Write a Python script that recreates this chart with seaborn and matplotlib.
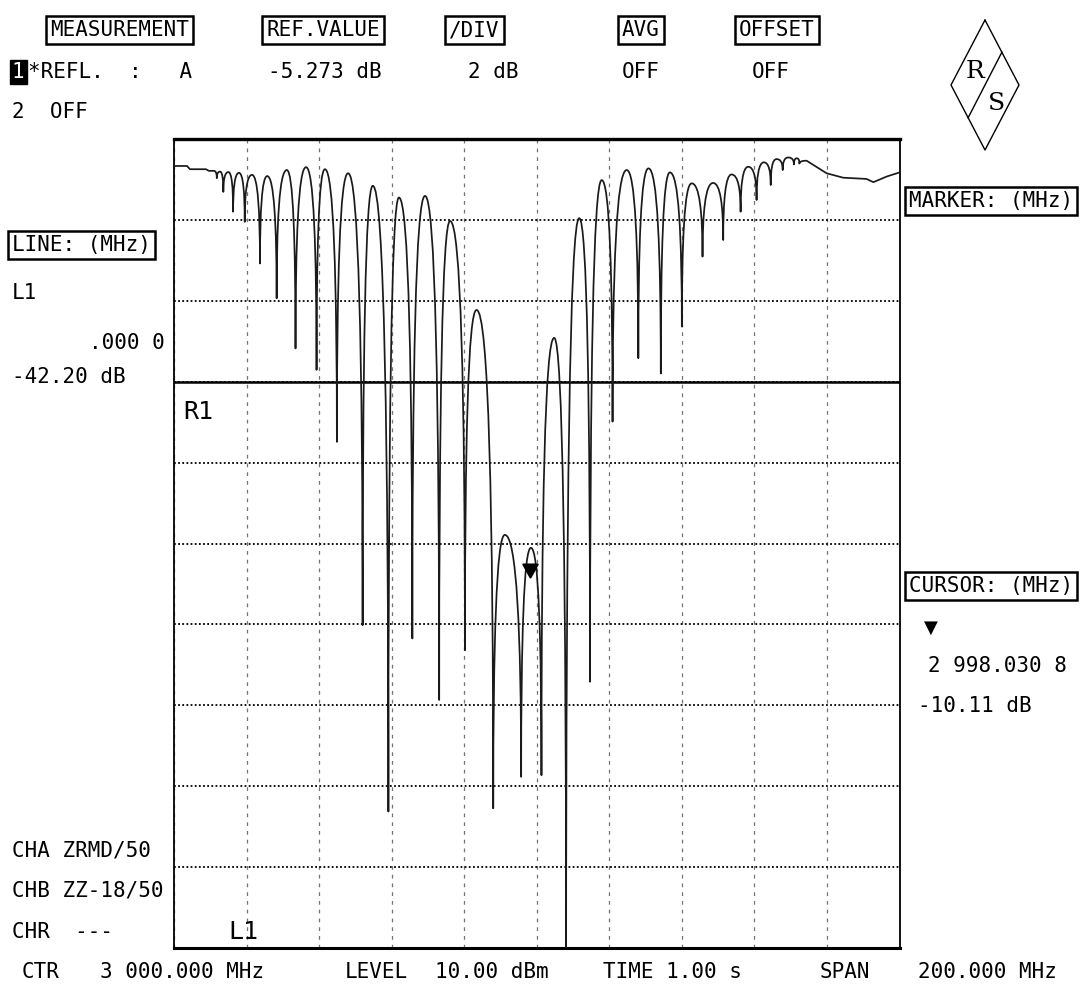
import numpy as np
import matplotlib
matplotlib.use("Agg")
import matplotlib.pyplot as plt
from matplotlib.path import Path
from matplotlib.patches import PathPatch
from matplotlib.lines import Line2D
import seaborn as sns

sns.set_style("white")
plt.rcParams['font.family'] = ['DejaVu Sans Mono', 'DejaVu Sans']
plt.rcParams['text.color'] = 'black'

# instrument settings
ref_value = -5.273      # dB at R1
db_per_div = 2
ctr = 3000.0            # MHz
span = 200.0            # MHz
cursor_f = 2998.0308
cursor_db = -10.11

# trace: flat start, dips, lobe tops between dips, flat end
lead_f = [2900.0, 2903.6, 2904.4, 2908.8, 2909.6, 2911.0]
lead_db = [0.06, 0.06, -0.02, -0.02, -0.06, -0.06]

dip_f = [2911.8, 2913.6, 2916.3, 2919.5, 2923.7, 2928.3, 2933.5, 2939.3, 2944.9, 2952.0,
         2959.1, 2965.7, 2973.1, 2980.2, 2988.0, 2995.7, 3001.3, 3008.1, 3014.7, 3020.9,
         3028.0, 3034.2, 3040.0, 3045.7, 3051.4, 3056.2, 3060.6, 3064.5, 3067.8, 3070.9,
         3072.4]
dip_db = [-0.24, -0.58, -1.07, -1.32, -2.35, -3.21, -4.45, -4.98, -6.76, -11.29,
          -15.90, -11.62, -13.14, -11.91, -15.82, -15.04, -15.00, -19.6, -12.69, -6.26,
          -4.69, -5.07, -3.91, -2.18, -1.77, -1.07, -0.78, -0.41, -0.04, 0.10,
          0.12]

peak_f = [2912.7, 2915.0, 2917.9, 2921.5, 2925.7, 2931.1, 2936.4, 2941.6, 2948.0, 2954.8,
          2962.0, 2969.2, 2976.1, 2983.4, 2991.2, 2998.4, 3004.8, 3011.7, 3017.9, 3024.8,
          3030.8, 3036.7, 3042.7, 3048.6, 3053.7, 3058.3, 3062.6, 3066.1, 3069.3, 3071.7]
peak_db = [-0.08, -0.09, -0.11, -0.16, -0.19, -0.04, 0.03, -0.02, -0.12, -0.43,
           -0.72, -0.68, -1.30, -3.50, -9.06, -9.38, -4.19, -1.23, -0.29, -0.04,
           0.00, -0.10, -0.37, -0.36, -0.15, 0.04, 0.15, 0.23, 0.27, 0.25]

tail_f = [3074.4, 3079.9, 3084.5, 3090.9, 3092.8, 3096.5, 3100.0]
tail_db = [0.19, -0.12, -0.23, -0.26, -0.34, -0.20, -0.10]

W, H = 1083, 986
fig = plt.figure(figsize=(W / 100, H / 100), dpi=100)
ax = fig.add_axes([174 / W, 1 - 948 / H, 725.5 / W, 809 / H])

f_lo, f_hi = ctr - span / 2, ctr + span / 2
top = ref_value + 3 * db_per_div
bottom = ref_value - 7 * db_per_div
ax.set_xlim(f_lo, f_hi)
ax.set_ylim(bottom, top)
ax.set_xticks(np.linspace(f_lo, f_hi, 11))
ax.set_yticks(np.linspace(bottom, top, 11))
ax.tick_params(length=0, labelbottom=False, labelleft=False)
ax.xaxis.grid(True, color='0.45', ls=(0, (3, 4)), lw=0.9)
ax.yaxis.grid(True, color='black', ls=(0, (1, 1.3)), lw=1.3)
for side, lw in [('top', 2.4), ('bottom', 2.2), ('left', 1.3), ('right', 1.3)]:
    ax.spines[side].set_linewidth(lw)
    ax.spines[side].set_color('black')

ax.axhline(ref_value, color='black', lw=1.8, zorder=3)

# trace: each lobe drawn as a curve from top down into the dip and back up
tops_f = [lead_f[-1]] + peak_f + [tail_f[0]]
tops_db = [lead_db[-1]] + peak_db + [tail_db[0]]
verts = list(zip(lead_f, lead_db))
codes = [Path.MOVETO] + [Path.LINETO] * (len(lead_f) - 1)
a, b = 0.6, 0.72
for i in range(len(dip_f)):
    xp, yp = tops_f[i], tops_db[i]
    xd, yd = dip_f[i], dip_db[i]
    xn, yn = tops_f[i + 1], tops_db[i + 1]
    verts += [(xp + b * (xd - xp), yp), (xd, yd + a * (yp - yd)), (xd, yd)]
    verts += [(xd, yd + a * (yn - yd)), (xn + b * (xd - xn), yn), (xn, yn)]
    codes += [Path.CURVE4] * 6
verts += list(zip(tail_f[1:], tail_db[1:]))
codes += [Path.LINETO] * (len(tail_f) - 1)
ax.add_patch(PathPatch(Path(verts, codes), fill=False, ec='#1a1a1a', lw=1.25,
                       joinstyle='round', capstyle='round', zorder=4))

tri = Path([(-0.55, 1), (0.55, 1), (0, 0), (-0.55, 1)],
           [Path.MOVETO, Path.LINETO, Path.LINETO, Path.CLOSEPOLY])
sns.scatterplot(x=[cursor_f], y=[cursor_db], marker=tri, s=350, color='black',
                edgecolor='black', ax=ax, zorder=6, legend=False)


def put(x, y, s, size=15, ha='left', box=False, **kw):
    t = fig.text(x / W, 1 - y / H, s, ha=ha, va='center', fontsize=size, **kw)
    if box:
        t.set_bbox(dict(boxstyle='square,pad=0.2', fc='white', ec='black', lw=1.8))
    return t


# header
put(50, 30, 'MEASUREMENT', box=True)
put(266, 30, 'REF.VALUE', box=True)
put(449, 30, '/DIV', box=True)
put(622, 30, 'AVG', box=True)
put(739, 30, 'OFFSET', box=True)
t1 = put(12, 72, '1', color='white')
t1.set_bbox(dict(boxstyle='square,pad=0.1', fc='black', ec='black'))
put(28, 72, '*REFL.  :   A')
put(268, 72, f'{ref_value:.3f} dB')
put(468, 72, f'{db_per_div} dB')
put(622, 72, 'OFF')
put(752, 72, 'OFF')
put(12, 112, '2  OFF')

# R&S logo
lx, ly = [985, 1019, 985, 951, 985], [20, 85, 150, 85, 20]
fig.add_artist(Line2D([v / W for v in lx], [1 - v / H for v in ly], color='black', lw=1.0))
fig.add_artist(Line2D([1002 / W, 968 / W], [1 - 52 / H, 1 - 118 / H], color='black', lw=1.0))
put(975, 72, 'R', size=18, ha='center', family='DejaVu Serif')
put(996, 104, 'S', size=18, ha='center', family='DejaVu Serif')

# left panel
put(12, 245, 'LINE: (MHz)', box=True)
put(12, 293, 'L1')
put(165, 343, '.000 0', ha='right')
put(12, 377, '-42.20 dB')
put(12, 850, 'CHA ZRMD/50')
put(12, 891, 'CHB ZZ-18/50')
put(12, 932, 'CHR  ---')
put(183, 412, 'R1', size=18)
put(228, 932, 'L1', size=18)

# right panel
put(909, 201, 'MARKER: (MHz)', box=True)
put(909, 586, 'CURSOR: (MHz)', box=True)
put(924, 628, '\u25bc', size=13, family='DejaVu Sans')
put(928, 666, '2 998.030 8')
put(918, 706, f'{cursor_db:.2f} dB')

# bottom row
put(22, 972, 'CTR')
put(100, 972, '3 000.000 MHz')
put(345, 972, 'LEVEL')
put(435, 972, '10.00 dBm')
put(603, 972, 'TIME 1.00 s')
put(820, 972, 'SPAN')
put(918, 972, f'{span:.3f} MHz')

fig.savefig('out.png', dpi=100, facecolor='white')
